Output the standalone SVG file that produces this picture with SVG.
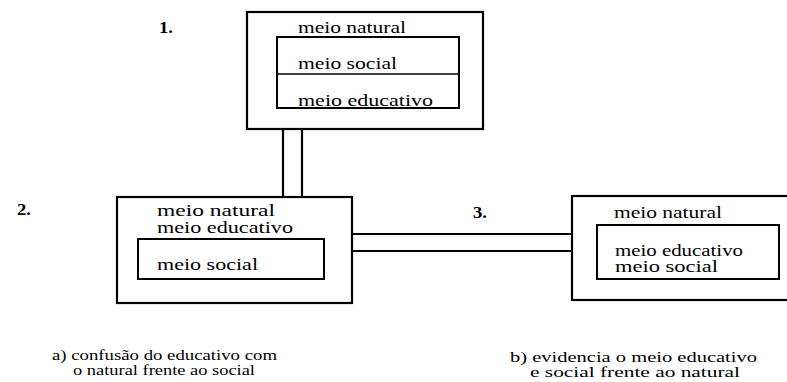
<svg xmlns="http://www.w3.org/2000/svg" width="787" height="382" viewBox="0 0 787 382">
<style>
  .box { fill: none; stroke: #000; stroke-width: 2.2; }
  .inner { fill: none; stroke: #000; stroke-width: 2; }
  .div { stroke: #000; stroke-width: 1.5; }
  .conn { stroke: #000; stroke-width: 2.2; fill: none; }
  .t { font-family: 'Liberation Serif', 'DejaVu Serif', serif; font-size: 16px; fill: #000; }
  .num { font-family: 'Liberation Serif', 'DejaVu Serif', serif; font-weight: bold; font-size: 16px; fill: #000; }
  .cap { font-family: 'Liberation Serif', 'DejaVu Serif', serif; font-size: 14px; fill: #000; }
</style>
<rect width="787" height="382" fill="#fff"/>
<g id="connectors">
  <line class="conn" x1="283" y1="129" x2="283" y2="197"/>
  <line class="conn" x1="302" y1="129" x2="302" y2="197"/>
  <line class="conn" x1="352" y1="234" x2="572" y2="234"/>
  <line class="conn" x1="352" y1="251" x2="572" y2="251"/>
</g>
<g id="node1" font-family="Liberation Serif, serif">
  <rect class="box" x="247" y="12" width="236" height="117"/>
  <rect class="inner" x="277" y="37" width="182" height="71"/>
  <line class="div" x1="277" y1="74" x2="459" y2="74"/>
  <text class="num" x="159" y="33" textLength="14" lengthAdjust="spacingAndGlyphs">1.</text>
  <text class="t" x="298" y="33" textLength="108" lengthAdjust="spacingAndGlyphs">meio natural</text>
  <text class="t" x="298" y="69" textLength="99" lengthAdjust="spacingAndGlyphs">meio social</text>
  <text class="t" x="298" y="106" textLength="135" lengthAdjust="spacingAndGlyphs">meio educativo</text>
</g>
<g id="node2" font-family="Liberation Serif, serif">
  <rect class="box" x="117" y="197" width="235" height="106"/>
  <rect class="inner" x="138" y="239" width="186" height="40"/>
  <text class="num" x="17" y="215" textLength="14" lengthAdjust="spacingAndGlyphs">2.</text>
  <text class="t" x="157" y="216" textLength="118" lengthAdjust="spacingAndGlyphs">meio natural</text>
  <text class="t" x="157" y="233" textLength="136" lengthAdjust="spacingAndGlyphs">meio educativo</text>
  <text class="t" x="157" y="270" textLength="101" lengthAdjust="spacingAndGlyphs">meio social</text>
</g>
<g id="node3" font-family="Liberation Serif, serif">
  <rect class="box" x="572" y="196" width="218" height="104"/>
  <rect class="inner" x="597" y="225" width="182" height="54"/>
  <text class="num" x="473" y="218" textLength="14" lengthAdjust="spacingAndGlyphs">3.</text>
  <text class="t" x="614" y="218" textLength="108" lengthAdjust="spacingAndGlyphs">meio natural</text>
  <text class="t" x="615" y="256" textLength="128" lengthAdjust="spacingAndGlyphs">meio educativo</text>
  <text class="t" x="615" y="272" textLength="103" lengthAdjust="spacingAndGlyphs">meio social</text>
</g>
<g id="captions" font-family="Liberation Serif, serif">
  <text class="cap" x="52" y="360" textLength="225" lengthAdjust="spacingAndGlyphs">a) confusão do educativo com</text>
  <text class="cap" x="73" y="375" textLength="182" lengthAdjust="spacingAndGlyphs">o natural frente ao social</text>
  <text class="cap" x="510" y="362" textLength="247" lengthAdjust="spacingAndGlyphs">b) evidencia o meio educativo</text>
  <text class="cap" x="530" y="377" textLength="210" lengthAdjust="spacingAndGlyphs">e social frente ao natural</text>
</g>
</svg>
